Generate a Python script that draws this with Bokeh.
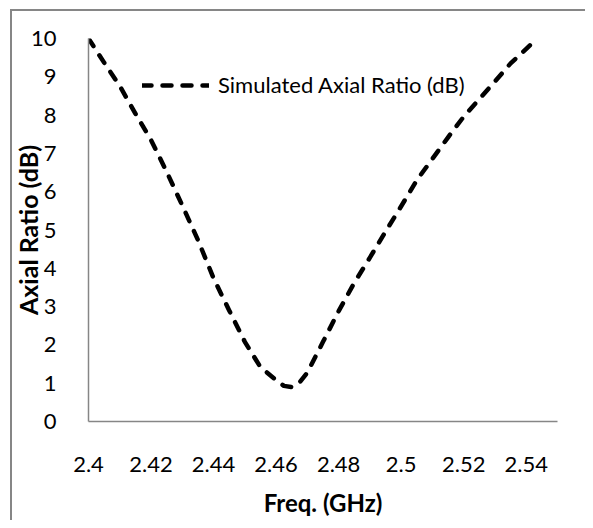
from bokeh.plotting import figure
from bokeh.models import Legend, LegendItem, FixedTicker, Range1d
from bokeh.embed import file_html
from bokeh.resources import INLINE

# ---- data ----
freq_ghz = [2.400, 2.405, 2.410, 2.415, 2.420, 2.425, 2.430, 2.435, 2.440, 2.445,
            2.450, 2.455, 2.460, 2.4625, 2.465, 2.4675, 2.470, 2.475, 2.480, 2.485,
            2.490, 2.495, 2.500, 2.505, 2.510, 2.515, 2.520, 2.525, 2.530, 2.535,
            2.540, 2.5435]
axial_ratio_db = [10.0, 9.37, 8.76, 8.04, 7.35, 6.52, 5.64, 4.74, 3.74, 2.90,
                  2.08, 1.42, 1.08, 0.93, 0.90, 1.02, 1.28, 2.08, 2.88, 3.62,
                  4.28, 4.96, 5.62, 6.30, 6.86, 7.42, 7.96, 8.42, 8.88, 9.35,
                  9.73, 10.0]
x_ticks = [2.40, 2.42, 2.44, 2.46, 2.48, 2.50, 2.52, 2.54]
x_tick_labels = ["2.4", "2.42", "2.44", "2.46", "2.48", "2.5", "2.52", "2.54"]
y_ticks = [0, 1, 2, 3, 4, 5, 6, 7, 8, 9, 10]
series_name = "Simulated Axial Ratio (dB)"
x_title = "Freq. (GHz)"
y_title = "Axial Ratio (dB)"

FONT = "Lato"
AXIS_COLOR = "#868686"

p = figure(width=585, height=520, output_backend="svg", toolbar_location=None,
           x_range=Range1d(2.40, 2.55), y_range=Range1d(0, 10),
           min_border_left=88, min_border_right=28,
           min_border_top=38, min_border_bottom=99)
# chart-area border (left and top edges visible in the reference)
p.styles = {"background": "linear-gradient(#868686, #868686) 10px 9px / 2px 100% no-repeat, "
                          "linear-gradient(#868686, #868686) 10px 9px / 100% 2px no-repeat, white"}

p.outline_line_color = None
p.xgrid.visible = False
p.ygrid.visible = False
p.background_fill_alpha = 0
p.border_fill_alpha = 0

r = p.line(freq_ghz, axial_ratio_db, line_color="black", line_width=4.5,
           line_dash="9 11", line_cap="round", line_join="round")

# x axis
xa = p.xaxis[0]
xa.ticker = FixedTicker(ticks=x_ticks)
xa.major_label_overrides = {t: s for t, s in zip(x_ticks, x_tick_labels)}
xa.axis_line_color = AXIS_COLOR
xa.axis_line_width = 1.5
xa.major_tick_line_color = None
xa.minor_tick_line_color = None
xa.major_label_text_font = FONT
xa.major_label_text_font_size = "22px"
xa.major_label_text_color = "black"
xa.major_label_standoff = 29
xa.axis_label = x_title
xa.axis_label_text_font = FONT
xa.axis_label_text_font_style = "bold"
xa.axis_label_text_font_size = "24px"
xa.axis_label_text_color = "black"
xa.axis_label_standoff = 13

# y axis
ya = p.yaxis[0]
ya.ticker = FixedTicker(ticks=y_ticks)
ya.axis_line_color = AXIS_COLOR
ya.axis_line_width = 1.5
ya.major_tick_line_color = None
ya.minor_tick_line_color = None
ya.major_label_text_font = FONT
ya.major_label_text_font_size = "22px"
ya.major_label_text_color = "black"
ya.major_label_standoff = 26
ya.axis_label = y_title
ya.axis_label_text_font = FONT
ya.axis_label_text_font_style = "bold"
ya.axis_label_text_font_size = "25px"
ya.axis_label_text_color = "black"
ya.axis_label_standoff = -15

legend = Legend(items=[LegendItem(label=series_name, renderers=[r])],
                location=(54, 323), glyph_width=67, glyph_height=20,
                label_standoff=9, padding=0, margin=0, spacing=0,
                border_line_color=None, background_fill_alpha=0,
                label_text_font=FONT, label_text_font_size="22px",
                label_text_color="black")
p.add_layout(legend)

open("out.html", "w").write(file_html(p, INLINE))
